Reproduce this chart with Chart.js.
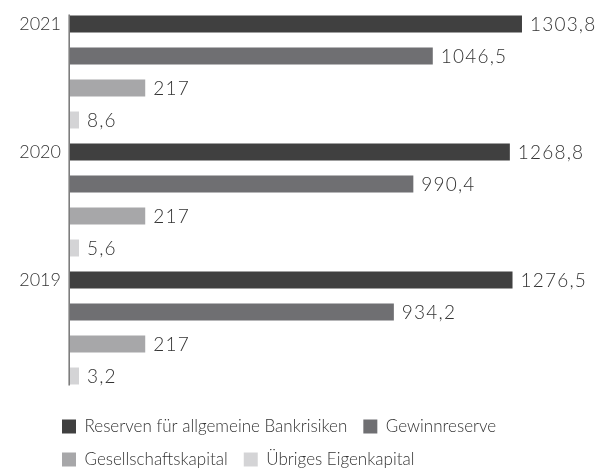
<!DOCTYPE html>
<html>
<head>
<meta charset="utf-8">
<script src="https://cdn.jsdelivr.net/npm/chart.js@4"></script>
<style>
  html, body { margin: 0; padding: 0; background: #ffffff; }
  #wrap { width: 598px; height: 468px; position: relative; }
</style>
</head>
<body>
<div id="wrap"><canvas id="c" width="598" height="468"></canvas></div>
<script>
const categories = ['2021', '2020', '2019'];
const seriesNames = ['Reserven für allgemeine Bankrisiken', 'Gewinnreserve', 'Gesellschaftskapital', 'Übriges Eigenkapital'];
const reserven = [1303.8, 1268.8, 1276.5];
const gewinnreserve = [1046.5, 990.4, 934.2];
const gesellschaftskapital = [217, 217, 217];
const uebriges = [8.6, 5.6, 3.2];
const colors = ['#404040', '#6f6f72', '#a7a7a9', '#d4d4d6'];

const FONT = 'Lato, "Open Sans", sans-serif';
const TEXT = '#333333';

function fmt(v) {
  return String(v).replace('.', ',');
}

const valueLabels = {
  id: 'valueLabels',
  afterDatasetsDraw(chart) {
    const ctx = chart.ctx;
    ctx.save();
    ctx.font = '300 19px ' + FONT;
    try { ctx.letterSpacing = '1.2px'; } catch (e) {}
    ctx.fillStyle = TEXT;
    ctx.textAlign = 'left';
    ctx.textBaseline = 'middle';
    chart.data.datasets.forEach((ds, di) => {
      const meta = chart.getDatasetMeta(di);
      meta.data.forEach((bar, i) => {
        ctx.fillText(fmt(ds.data[i]), bar.x + 8, bar.y + 1);
      });
    });
    try { ctx.letterSpacing = '0px'; } catch (e) {}
    ctx.restore();
  }
};

const axisLine = {
  id: 'axisLine',
  afterDatasetsDraw(chart) {
    const first = chart.getDatasetMeta(0).data[0];
    const lastMeta = chart.getDatasetMeta(chart.data.datasets.length - 1);
    const last = lastMeta.data[lastMeta.data.length - 1];
    const ctx = chart.ctx;
    const x = chart.chartArea.left - 0.8;
    ctx.save();
    ctx.strokeStyle = '#7d7d7d';
    ctx.lineWidth = 1.6;
    ctx.beginPath();
    ctx.moveTo(x, first.y - first.height / 2 - 1);
    ctx.lineTo(x, last.y + last.height / 2 + 1);
    ctx.stroke();
    ctx.restore();
  }
};

const legendPlace = {
  id: 'legendPlace',
  beforeDraw(chart) {
    if (chart.legend) {
      chart.legend.left = 46;
      chart.legend.top = 402;
    }
  }
};

const dataArrays = [reserven, gewinnreserve, gesellschaftskapital, uebriges];

new Chart(document.getElementById('c'), {
  type: 'bar',
  data: {
    labels: categories,
    datasets: dataArrays.map((arr, i) => ({
      label: seriesNames[i],
      data: arr,
      backgroundColor: colors[i],
      borderWidth: 0,
      categoryPercentage: 1.0,
      barPercentage: 0.53,
      minBarLength: i === 3 ? 9 : 0
    }))
  },
  options: {
    indexAxis: 'y',
    responsive: false,
    animation: false,
    devicePixelRatio: 1,
    layout: { padding: { left: 10, right: 8, top: 8, bottom: 0 } },
    scales: {
      x: { display: false, min: 0, max: 1500 },
      y: {
        grid: { display: false, drawTicks: false },
        border: { display: false },
        ticks: {
          color: TEXT,
          font: { family: FONT, size: 18, weight: '300' },
          padding: 9,
          labelOffset: -48
        },
        afterFit(scale) {
          scale.width = 60;
          scale.paddingTop = 0;
          scale.paddingBottom = 0;
        }
      }
    },
    plugins: {
      tooltip: { enabled: false },
      legend: {
        position: 'bottom',
        align: 'start',
        labels: {
          boxWidth: 14,
          boxHeight: 14,
          padding: 16,
          color: TEXT,
          font: { family: FONT, size: 17, weight: '300' }
        }
      }
    }
  },
  plugins: [valueLabels, axisLine, legendPlace]
});
</script>
</body>
</html>
